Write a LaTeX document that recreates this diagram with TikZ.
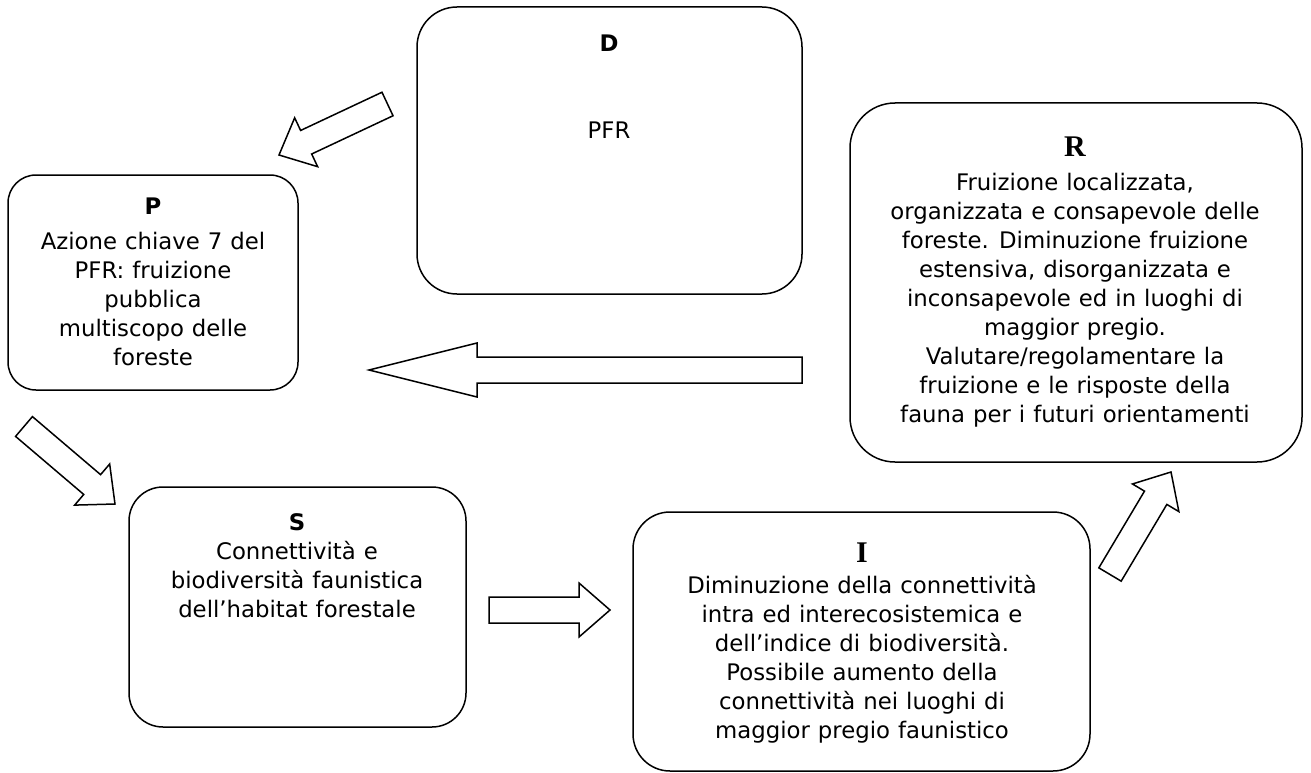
\documentclass[tikz,border=0pt]{standalone}
\usepackage{fontspec}
\usetikzlibrary{calc}
\newfontfamily\boxfont[WordSpace=1.1]{DejaVu Sans}
\newfontfamily\serifbold{Liberation Serif}

\tikzset{
  stage/.style={draw, line width=1.5pt, rounded corners=#1, inner sep=0pt},
  stage/.default=35pt,
  txt/.style={inner sep=0pt, align=center,
    font=\boxfont\fontsize{22.8pt}{29pt}\selectfont},
  body/.style={txt, anchor=north},
  headsans/.style={txt, anchor=base, font=\boxfont\bfseries\fontsize{22.8pt}{29pt}\selectfont},
  headserif/.style={txt, anchor=base, font=\serifbold\bfseries\fontsize{30pt}{34pt}\selectfont},
  blockarrow/.style={draw, fill=white, line width=1.5pt, line join=miter},
}

% hollow block arrow from a tail coordinate to a tip coordinate
% #1 tail, #2 tip, #3 head length
\newcommand\blockarrow[3]{%
  \coordinate (#1b) at ($(#2)!#3!(#1)$);
  \draw[blockarrow]
    ($(#1)!13pt!90:(#2)$) -- ($(#1b)!13pt!90:(#2)$) -- ($(#1b)!27pt!90:(#2)$)
    -- (#2)
    -- ($(#1b)!27pt!-90:(#2)$) -- ($(#1b)!13pt!-90:(#2)$) -- ($(#1)!13pt!-90:(#2)$)
    -- cycle;
}

\begin{document}
\begin{tikzpicture}[x=1pt, y=-1pt]
\useasboundingbox (0,0) rectangle (1311,773);

% the five stages
\node[stage=40pt, minimum width=385pt, minimum height=287pt] (D) at (609.5,150.5) {};
\node[stage=28pt, minimum width=290pt, minimum height=215pt] (P) at (153,282.5) {};
\node[stage=45pt, minimum width=452pt, minimum height=359pt] (R) at (1076,282.5) {};
\node[stage=34pt, minimum width=337pt, minimum height=240pt] (S) at (297.5,607) {};
\node[stage=37pt, minimum width=457pt, minimum height=259pt] (I) at (861.5,641.5) {};

% texts
\node[headsans] (Dt) at (609,52) {D};
\node[txt, anchor=base] (Db) at (609,139) {PFR};

\node[headsans] (Pt) at (153,214) {P};
\node[body] (Pb) at (153,228.7) {\strut Azione chiave 7 del\\PFR: fruizione\\pubblica\\multiscopo delle\\foreste};

\node[headserif] (Rt) at (1075,157) {R};
\node[body] (Rb) at (1075,169.7) {\strut Fruizione localizzata,\\organizzata e consapevole delle\\foreste. Diminuzione fruizione\\estensiva, disorganizzata e\\inconsapevole ed in luoghi di\\maggior pregio.\\Valutare/regolamentare la\\fruizione e le risposte della\\fauna per i futuri orientamenti};

\node[headsans] (St) at (297,530) {S};
\node[body] (Sb) at (297,538.7) {\strut Connettività e\\biodiversità faunistica\\dell’habitat forestale};

\node[headserif] (It) at (862,562) {I};
\node[body] (Ib) at (862,572.7) {\strut Diminuzione della connettività\\intra ed interecosistemica e\\dell’indice di biodiversità.\\Possibile aumento della\\connettività nei luoghi di\\maggior pregio faunistico};

% block arrows between the stages
\coordinate (a1t) at (387.5,104);  \coordinate (a1h) at (279,155);
\coordinate (a2t) at (802,370);    \coordinate (a2h) at (369,370);
\coordinate (a3t) at (24,426.5);   \coordinate (a3h) at (115,504);
\coordinate (a4t) at (489,610);    \coordinate (a4h) at (610,610);
\coordinate (a5t) at (1110,574.5); \coordinate (a5h) at (1171,472);
\blockarrow{a1t}{a1h}{30pt}
\blockarrow{a2t}{a2h}{108pt}
\blockarrow{a3t}{a3h}{30pt}
\blockarrow{a4t}{a4h}{31pt}
\blockarrow{a5t}{a5h}{30pt}
\end{tikzpicture}
\end{document}
